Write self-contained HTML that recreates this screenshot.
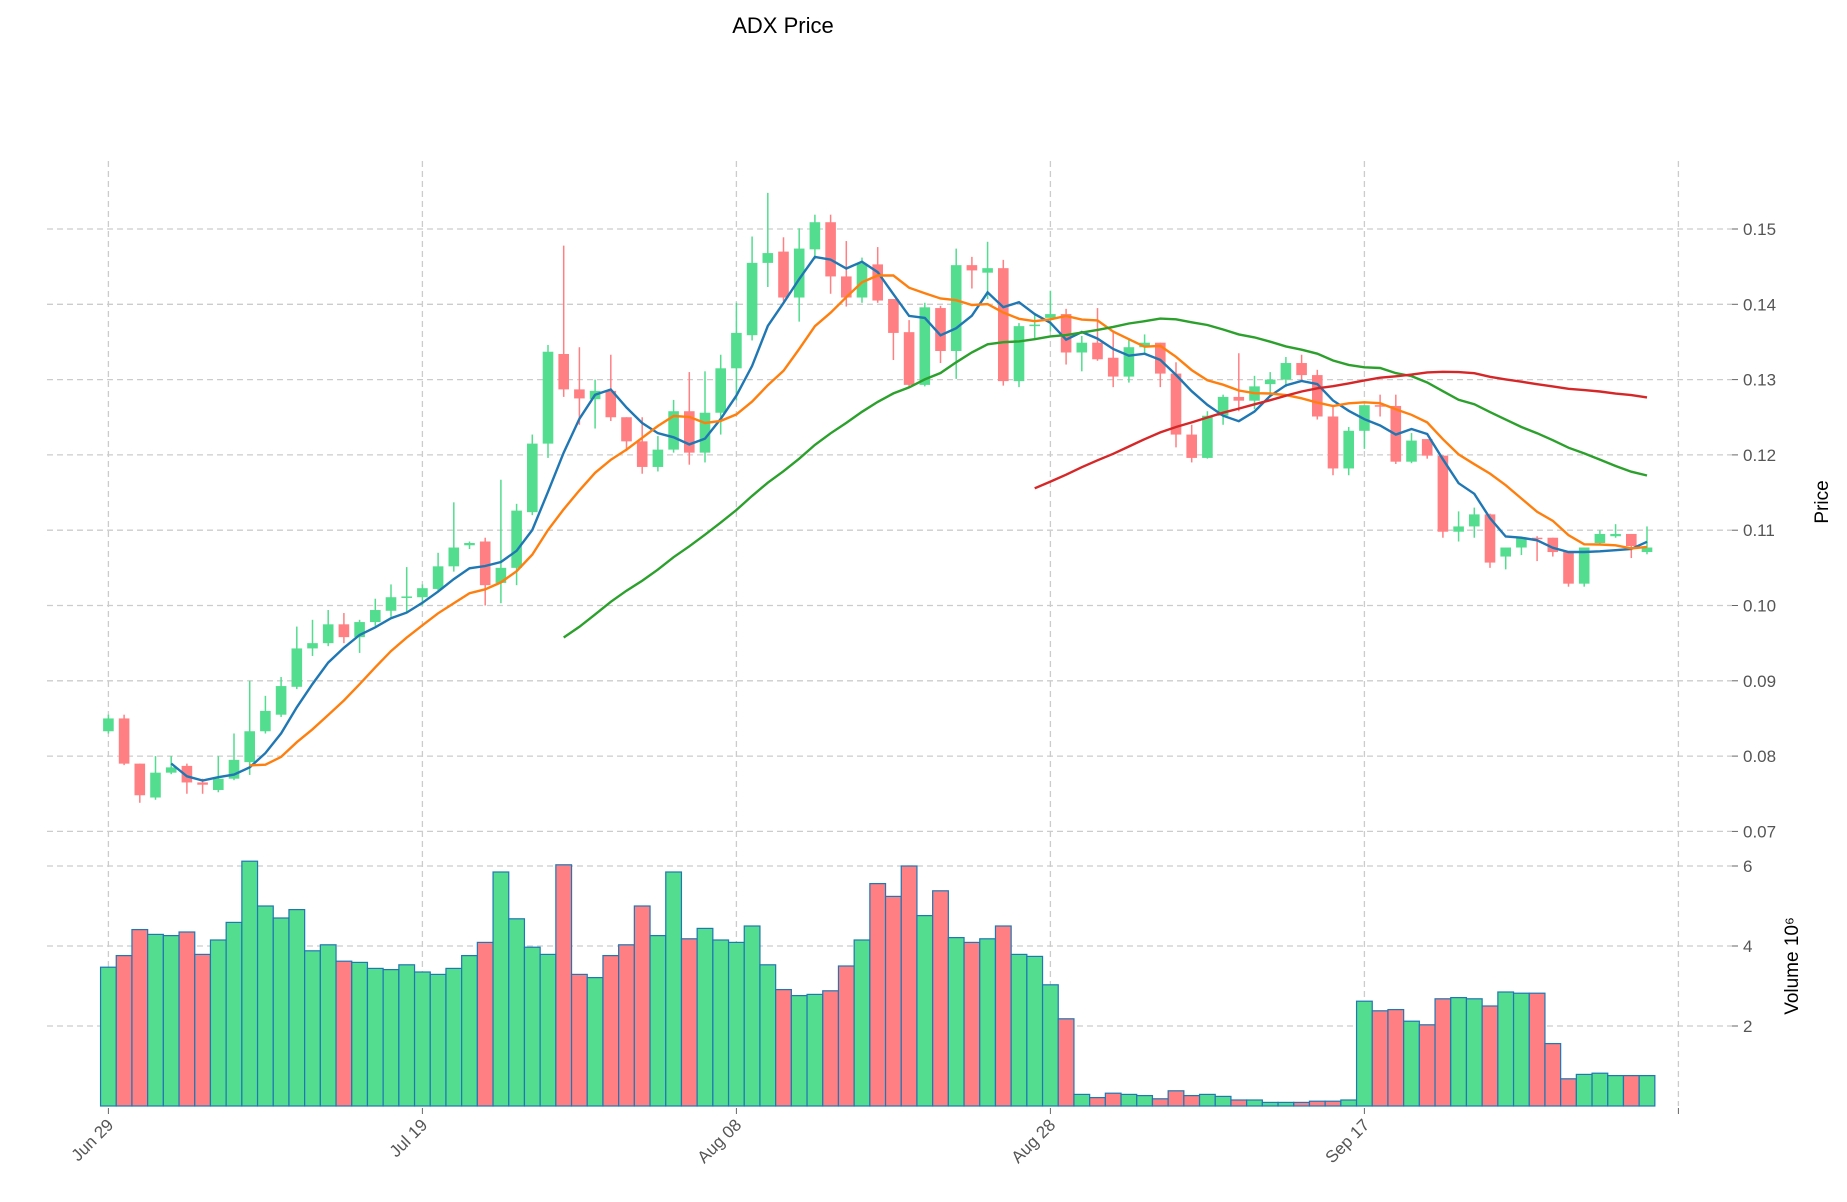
<!DOCTYPE html>
<html><head><meta charset="utf-8"><style>
html,body{margin:0;padding:0;background:#fff;}
svg{display:block;font-family:"Liberation Sans","DejaVu Sans",sans-serif;}
</style></head><body>
<svg id="c" width="1847" height="1202" viewBox="0 0 1847 1202" xmlns="http://www.w3.org/2000/svg">
<text x="783" y="33" font-size="22" text-anchor="middle" fill="#000">ADX Price</text>
<g id="g"></g>
</svg>
<script>
var NS="http://www.w3.org/2000/svg",g=document.getElementById('g');
function el(t,a,txt){var e=document.createElementNS(NS,t);for(var k in a)e.setAttribute(k,a[k]);if(txt!=null)e.textContent=txt;g.appendChild(e);return e;}
var X=function(i){return 108.4+i*15.7;};
var P=function(p){return 229+(0.15-p)*7530;};
var V=function(v){return 1106-v*40;};
// grid
var gc="#cccccc";
[0.07,0.08,0.09,0.10,0.11,0.12,0.13,0.14,0.15].forEach(function(p){
 el('line',{x1:47,x2:1732,y1:P(p),y2:P(p),stroke:gc,'stroke-width':1.3,'stroke-dasharray':'6,4'});
 el('line',{x1:1732,x2:1738,y1:P(p),y2:P(p),stroke:'#666','stroke-width':1});
 el('text',{x:1743,y:P(p)+6,'font-size':17,fill:'#555'},p.toFixed(2));
});
[2,4,6].forEach(function(v){
 el('line',{x1:47,x2:1732,y1:V(v),y2:V(v),stroke:gc,'stroke-width':1.3,'stroke-dasharray':'6,4'});
 el('line',{x1:1732,x2:1738,y1:V(v),y2:V(v),stroke:'#666','stroke-width':1});
 el('text',{x:1743,y:V(v)+6,'font-size':17,fill:'#555'},String(v));
});
var dl=["Jun 29","Jul 19","Aug 08","Aug 28","Sep 17",""];
for(var k=0;k<6;k++){var x=X(k*20);
 el('line',{x1:x,x2:x,y1:161,y2:1106,stroke:gc,'stroke-width':1.3,'stroke-dasharray':'6,4'});
 el('line',{x1:x,x2:x,y1:1108,y2:1114,stroke:'#666','stroke-width':1});
 if(dl[k])el('text',{x:0,y:0,'font-size':17,fill:'#555','text-anchor':'end',transform:'translate('+(x+6)+',1126) rotate(-45)'},dl[k]);
}
el('text',{x:0,y:0,'font-size':19,fill:'#000','text-anchor':'middle',transform:'translate(1828,502) rotate(-90)'},'Price');
el('text',{x:0,y:0,'font-size':19,fill:'#000','text-anchor':'middle',transform:'translate(1798,966) rotate(-90)'},'Volume  10\u2076');
// data o,c,h,l
var D=[
[.0833,.0850,.0855,.0830],[.0850,.0790,.0855,.0788],[.0790,.0748,.0790,.0738],[.0745,.0778,.0800,.0742],[.0778,.0785,.0800,.0776],
[.0787,.0765,.0790,.0750],[.0765,.0762,.0770,.0750],[.0755,.0770,.0800,.0752],[.0770,.0795,.0830,.0768],[.0792,.0833,.0900,.0775],
[.0833,.0860,.0880,.0830],[.0855,.0893,.0905,.0852],[.0892,.0943,.0972,.0889],[.0943,.0950,.0981,.0933],[.0950,.0975,.0994,.0946],
[.0975,.0958,.0990,.0950],[.0958,.0978,.0981,.0937],[.0978,.0994,.1009,.0973],[.0993,.1011,.1028,.0985],[.1011,.1012,.1051,.0990],
[.1011,.1023,.1028,.1000],[.1022,.1052,.1070,.1020],[.1052,.1077,.1137,.1045],[.1080,.1083,.1085,.1075],[.1085,.1027,.1090,.1000],
[.1030,.1050,.1167,.1003],[.1050,.1126,.1135,.1027],[.1124,.1215,.1227,.1120],[.1215,.1337,.1346,.1196],[.1334,.1287,.1478,.1277],
[.1287,.1275,.1343,.1240],[.1274,.1285,.1300,.1235],[.1285,.1250,.1333,.1245],[.1250,.1218,.1250,.1205],[.1218,.1184,.1250,.1175],
[.1184,.1207,.1225,.1178],[.1207,.1258,.1273,.1203],[.1258,.1203,.1310,.1187],[.1203,.1256,.1311,.1190],[.1256,.1315,.1333,.1227],
[.1315,.1362,.1402,.1272],[.1359,.1455,.1490,.1352],[.1455,.1468,.1548,.1423],[.1470,.1409,.1489,.1404],[.1409,.1474,.1501,.1377],
[.1473,.1509,.1519,.1460],[.1509,.1437,.1519,.1414],[.1437,.1409,.1484,.1397],[.1409,.1454,.1462,.1402],[.1453,.1405,.1476,.1402],
[.1407,.1362,.1407,.1326],[.1363,.1293,.1379,.1290],[.1293,.1396,.1402,.1291],[.1395,.1338,.1398,.1322],[.1338,.1452,.1474,.1301],
[.1452,.1445,.1463,.1421],[.1442,.1448,.1483,.1407],[.1448,.1298,.1459,.1292],[.1298,.1371,.1375,.1290],[.1371,.1373,.1386,.1355],
[.1382,.1387,.1418,.1364],[.1387,.1336,.1394,.1320],[.1336,.1349,.1358,.1311],[.1349,.1327,.1395,.1325],[.1329,.1304,.1364,.1290],
[.1304,.1343,.1355,.1296],[.1343,.1349,.1360,.1334],[.1349,.1308,.1349,.1290],[.1308,.1227,.1323,.1210],[.1227,.1196,.1240,.1190],
[.1196,.1252,.1258,.1195],[.1252,.1277,.1280,.1240],[.1277,.1272,.1335,.1258],[.1272,.1291,.1305,.1261],[.1294,.1300,.1310,.1279],
[.1300,.1322,.1330,.1290],[.1322,.1306,.1333,.1297],[.1306,.1251,.1313,.1247],[.1251,.1182,.1266,.1173],[.1182,.1232,.1237,.1173],
[.1232,.1266,.1266,.1208],[.1266,.1264,.1280,.1251],[.1265,.1191,.1280,.1188],[.1191,.1219,.1229,.1189],[.1221,.1199,.1221,.1195],
[.1199,.1098,.1200,.1090],[.1098,.1105,.1125,.1085],[.1105,.1121,.1130,.1090],[.1121,.1057,.1122,.1050],[.1065,.1077,.1077,.1048],
[.1077,.1090,.1090,.1067],[.1090,.1088,.1092,.1059],[.1090,.1071,.1090,.1065],[.1071,.1029,.1071,.1025],[.1029,.1077,.1077,.1025],
[.1083,.1095,.1100,.1080],[.1092,.1095,.1108,.1090],[.1095,.1079,.1095,.1063],[.1071,.1077,.1105,.1068]];
var VOL=[3.47,3.76,4.41,4.29,4.26,4.35,3.79,4.15,4.59,6.12,5.0,4.7,4.91,3.88,4.03,3.62,3.59,3.44,3.41,3.53,3.35,3.29,3.44,3.76,4.09,5.85,4.68,3.97,3.79,6.03,3.29,3.21,3.76,4.03,5.0,4.26,5.85,4.18,4.44,4.15,4.09,4.5,3.53,2.91,2.76,2.79,2.88,3.5,4.15,5.56,5.24,6.0,4.76,5.38,4.21,4.09,4.18,4.5,3.79,3.74,3.03,2.18,0.29,0.21,0.32,0.29,0.26,0.18,0.38,0.26,0.29,0.24,0.15,0.15,0.09,0.09,0.09,0.12,0.12,0.15,2.62,2.38,2.41,2.12,2.03,2.68,2.71,2.68,2.5,2.85,2.82,2.82,1.56,0.68,0.79,0.82,0.76,0.76,0.76];
var GR="#53dd8e",RD="#ff7f83";
// volume
for(var i=0;i<D.length;i++){var up=D[i][1]>=D[i][0];
 el('rect',{x:X(i)-7.85,y:V(VOL[i]),width:15.7,height:1106-V(VOL[i]),fill:up?GR:RD,stroke:'#1f77b4','stroke-width':1.2});}
// candles
for(var i=0;i<D.length;i++){var d=D[i],up=d[1]>=d[0],c=up?GR:RD,x=X(i);
 el('line',{x1:x,x2:x,y1:P(d[2]),y2:P(d[3]),stroke:c,'stroke-width':1.5});
 var t=P(Math.max(d[0],d[1])),b=P(Math.min(d[0],d[1]));
 el('rect',{x:x-5.3,y:t,width:10.6,height:Math.max(1.5,b-t),fill:c});}
// MAs
function ma(n,col){var pts=[];for(var i=n-1;i<D.length;i++){var s=0;for(var j=i-n+1;j<=i;j++)s+=D[j][1];pts.push(X(i).toFixed(1)+','+P(s/n).toFixed(1));}
 el('polyline',{points:pts.join(' '),fill:'none',stroke:col,'stroke-width':2.4});}
ma(5,'#1f77b4');ma(10,'#ff7f0e');ma(30,'#2ca02c');ma(60,'#d62728');
</script>
</body></html>
